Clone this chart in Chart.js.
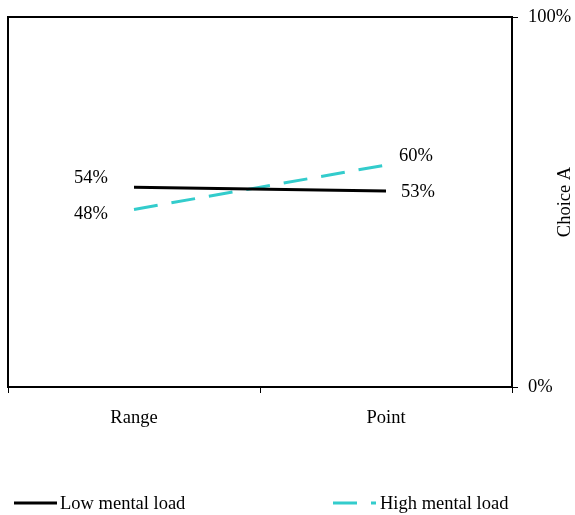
<!DOCTYPE html>
<html>
<head>
<meta charset="utf-8">
<script src="https://cdn.jsdelivr.net/npm/chart.js@4/dist/chart.umd.min.js"></script>
<style>
  html, body { margin: 0; padding: 0; background: #fff; }
  #wrap { width: 575px; height: 515px; }
</style>
</head>
<body>
<div id="wrap"><canvas id="c" width="575" height="515"></canvas></div>
<script>
const categories = ['Range', 'Point'];
const lowLoad = [54, 53];
const highLoad = [48, 60];
const seriesNames = ['Low mental load', 'High mental load'];
const yTicks = [0, 100];
const axisTitle = 'Choice A';

const FONT = '"Liberation Serif", "Times New Roman", serif';
const FS = 18.5;
const TEAL = '#33CCCC';
const DASH = [24, 14];

// value labels next to each end of both lines
const valueLabels = {
  id: 'valueLabels',
  afterDatasetsDraw(chart) {
    const { ctx, scales: { x, y } } = chart;
    ctx.save();
    ctx.font = FS + 'px ' + FONT;
    ctx.fillStyle = '#000';
    ctx.textBaseline = 'middle';
    const place = [
      // [dataset, index, dx, dy, align]
      [0, 0, -26, -9, 'right'],
      [1, 0, -26, 5, 'right'],
      [0, 1, 15, 1, 'left'],
      [1, 1, 13, -9, 'left']
    ];
    const sets = [lowLoad, highLoad];
    place.forEach(([d, i, dx, dy, al]) => {
      const px = x.getPixelForValue(i);
      const py = y.getPixelForValue(sets[d][i]);
      ctx.textAlign = al;
      ctx.fillText(sets[d][i] + '%', px + dx, py + dy);
    });
    ctx.restore();
  }
};

// plot frame, rotated axis title and bottom legend
const frame = {
  id: 'frame',
  afterDraw(chart) {
    const { ctx, chartArea: a } = chart;
    ctx.save();
    ctx.strokeStyle = '#000';
    ctx.lineWidth = 2;
    ctx.strokeRect(a.left, a.top, a.right - a.left, a.bottom - a.top);

    // axis title reading bottom-to-top
    ctx.font = FS + 'px ' + FONT;
    ctx.fillStyle = '#000';
    ctx.translate(565, (a.top + a.bottom) / 2);
    ctx.rotate(-Math.PI / 2);
    ctx.textAlign = 'center';
    ctx.textBaseline = 'middle';
    ctx.fillText(axisTitle, 0, 0);
    ctx.restore();

    // legend
    ctx.save();
    const ly = 503;
    ctx.lineWidth = 3;
    ctx.strokeStyle = '#000';
    ctx.beginPath();
    ctx.moveTo(14, ly); ctx.lineTo(57, ly);
    ctx.stroke();
    ctx.strokeStyle = TEAL;
    ctx.setLineDash(DASH);
    ctx.beginPath();
    ctx.moveTo(333, ly); ctx.lineTo(376, ly);
    ctx.stroke();
    ctx.setLineDash([]);
    ctx.font = FS + 'px ' + FONT;
    ctx.fillStyle = '#000';
    ctx.textAlign = 'left';
    ctx.textBaseline = 'middle';
    ctx.fillText(seriesNames[0], 60, ly + 1);
    ctx.fillText(seriesNames[1], 380, ly + 1);
    ctx.restore();
  }
};

new Chart(document.getElementById('c'), {
  type: 'line',
  data: {
    labels: categories,
    datasets: [
      {
        label: seriesNames[0],
        data: lowLoad,
        borderColor: '#000',
        borderWidth: 3,
        pointRadius: 0,
        tension: 0
      },
      {
        label: seriesNames[1],
        data: highLoad,
        borderColor: TEAL,
        borderWidth: 3,
        borderDash: DASH,
        pointRadius: 0,
        tension: 0
      }
    ]
  },
  options: {
    responsive: false,
    animation: false,
    layout: { padding: { left: 8, top: 17, right: 0, bottom: 0 } },
    plugins: { legend: { display: false }, tooltip: { enabled: false } },
    scales: {
      x: {
        offset: true,
        grid: { offset: true, drawOnChartArea: false, drawTicks: true, tickLength: 6, color: '#000', lineWidth: 1 },
        border: { display: true, color: '#000', width: 2 },
        ticks: { color: '#000', font: { family: FONT, size: FS }, padding: 14, maxRotation: 0 },
        afterFit(s) { s.height = 128; s.paddingLeft = 0; s.paddingRight = 0; }
      },
      y: {
        position: 'right',
        min: 0,
        max: 100,
        afterBuildTicks(s) { s.ticks = yTicks.map(v => ({ value: v })); },
        grid: { drawOnChartArea: false, drawTicks: true, tickLength: 6, color: '#000', lineWidth: 1 },
        border: { display: true, color: '#000', width: 2 },
        ticks: { color: '#000', font: { family: FONT, size: FS }, padding: 10, callback: v => v + '%' },
        afterFit(s) { s.width = 63; s.paddingTop = 0; s.paddingBottom = 0; }
      }
    }
  },
  plugins: [valueLabels, frame]
});
</script>
</body>
</html>
